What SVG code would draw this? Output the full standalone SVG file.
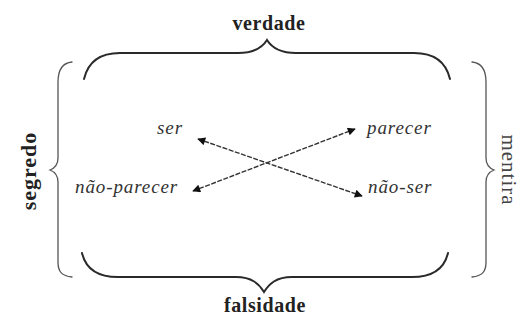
<svg xmlns="http://www.w3.org/2000/svg" width="520" height="320" viewBox="0 0 520 320">
<defs>
<style>
.brace{fill:none;stroke:#2a2a2a;stroke-width:2;stroke-linecap:round}
.side{fill:none;stroke:#555;stroke-width:1.3;stroke-linecap:round}
.lbl{font-family:"Liberation Serif",serif;font-style:italic;font-size:19px;letter-spacing:0.9px;fill:#333}
.ttl{font-family:"Liberation Serif",serif;font-weight:bold;font-size:20px;letter-spacing:0.6px;fill:#222}
.side-ttl{font-family:"Liberation Serif",serif;font-size:21px;letter-spacing:1px;fill:#444}
.arr{stroke:#333;stroke-width:1.4;stroke-dasharray:5 1.5;fill:none;marker-start:url(#ah);marker-end:url(#ah)}
</style>
<marker id="ah" viewBox="0 0 10 10" refX="9" refY="5" markerWidth="12" markerHeight="8" orient="auto-start-reverse" markerUnits="userSpaceOnUse">
<path d="M0,0 L10,5 L0,10 Z" fill="#111"/>
</marker>
</defs>
<rect width="520" height="320" fill="#fff"/>
<g id="verdade">
<path class="brace" d="M84,79 C88,62 100,53 120,53 L238,53 C254,53 262,48 267,40 C272,48 280,53 296,53 L414,53 C434,53 446,62 450,79"/>
<text class="ttl" x="269" y="30" text-anchor="middle">verdade</text>
</g>
<g id="falsidade">
<path class="brace" d="M82,253 C86,270 98,277 118,277 L236,277 C252,277 259,284 264,292 C269,284 276,277 292,277 L412,277 C432,277 444,270 448,253"/>
<text class="ttl" x="265" y="312" text-anchor="middle">falsidade</text>
</g>
<g id="segredo">
<path class="side" d="M72,62 C62,63 58,70 58,82 L58,158 C58,165 55,168 50,170 C55,172 58,175 58,182 L58,262 C58,272 62,276 72,277"/>
<text class="ttl" transform="translate(36,171) rotate(-90)" text-anchor="middle" style="font-size:22px;letter-spacing:1px">segredo</text>
</g>
<g id="mentira">
<path class="side" d="M472,62 C482,63 486,70 486,82 L486,158 C486,165 489,168 494,170 C489,172 486,175 486,182 L486,262 C486,272 482,276 472,277"/>
<text class="side-ttl" transform="translate(502,170) rotate(90)" text-anchor="middle">mentira</text>
</g>
<g id="ser"><text class="lbl" x="157" y="134">ser</text></g>
<g id="parecer"><text class="lbl" x="367" y="134">parecer</text></g>
<g id="nao-parecer"><text class="lbl" x="75" y="193">não-parecer</text></g>
<g id="nao-ser"><text class="lbl" x="368" y="193">não-ser</text></g>
<g id="connectors">
<line class="arr" x1="198" y1="139" x2="362" y2="196"/>
<line class="arr" x1="193" y1="191" x2="355" y2="129"/>
</g>
</svg>
